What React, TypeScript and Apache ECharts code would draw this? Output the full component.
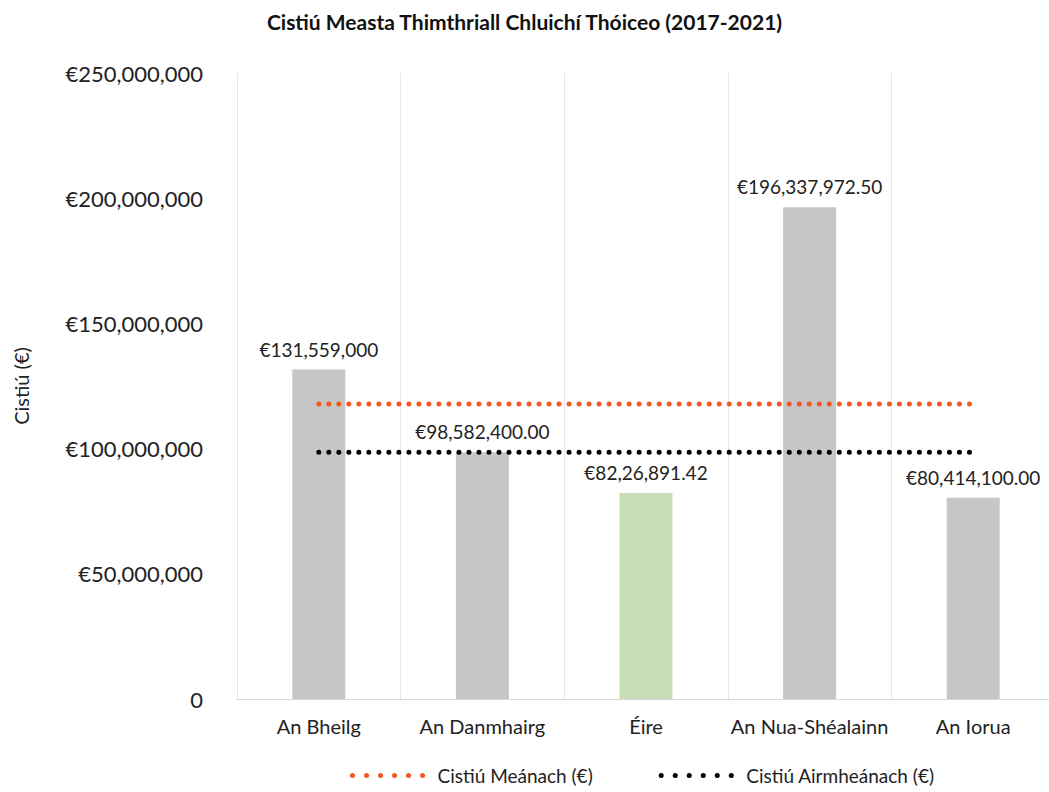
import React, { useEffect, useRef } from "react";
import * as echarts from "echarts";

const categories = ["An Bheilg", "An Danmhairg", "Éire", "An Nua-Shéalainn", "An Iorua"];
const fundingValues = [131559000, 98582400, 82268914, 196337972.5, 80414100];
const fundingLabels = ["€131,559,000", "€98,582,400.00", "€82,26,891.42", "€196,337,972.50", "€80,414,100.00"];
const meanValues = [117832477, 117832477, 117832477, 117832477, 117832477];
const medianValues = [98582400, 98582400, 98582400, 98582400, 98582400];
const yTicks = [0, 50000000, 100000000, 150000000, 200000000, 250000000];
const highlightIndex = 2;

const FONT = "Lato, 'Noto Sans', sans-serif";

function fmtEuro(v: number): string {
  if (v === 0) return "0";
  return "€" + v.toLocaleString("en-US");
}

export default function App() {
  const ref = useRef<HTMLDivElement>(null);
  useEffect(() => {
    if (!ref.current) return;
    const chart = echarts.init(ref.current, undefined, { renderer: "svg" });
    chart.setOption({
      animation: false,
      backgroundColor: "#ffffff",
      title: {
        text: "Cistiú Measta Thimthriall Chluichí Thóiceo (2017-2021)",
        left: "center",
        top: 6,
        textStyle: { fontFamily: FONT, fontSize: 21, fontWeight: "bold", color: "#111" },
      },
      grid: { left: 237, right: -6, top: 73, bottom: 93, containLabel: false, outerBoundsMode: "none" },
      legend: {
        bottom: 2,
        left: 345,
        itemGap: 66,
        itemWidth: 74,
        itemHeight: 14,
        itemStyle: { opacity: 0 },
        lineStyle: { width: 5, type: [0.01, 14], cap: "round" },
        textStyle: { fontFamily: FONT, fontSize: 19, color: "#222", padding: [0, 0, 0, 6] },
        data: ["Cistiú Meánach (€)", "Cistiú Airmheánach (€)"],
      },
      xAxis: {
        type: "category",
        data: categories,
        axisLine: { lineStyle: { color: "#d9d9d9", width: 1 } },
        axisTick: { show: false },
        splitLine: { show: true, interval: 0, lineStyle: { color: "#e6e6e6", width: 1 } },
        axisLabel: { interval: 0, fontFamily: FONT, fontSize: 20, color: "#222", margin: 17 },
      },
      yAxis: {
        type: "value",
        min: 0,
        max: 250000000,
        interval: 50000000,
        name: "Cistiú (€)",
        nameLocation: "middle",
        nameGap: 206,
        nameTextStyle: { fontFamily: FONT, fontSize: 20, color: "#222" },
        axisLine: { show: false },
        axisTick: { show: false },
        splitLine: { show: false },
        axisLabel: {
          fontFamily: FONT,
          fontSize: 22,
          color: "#222",
          margin: 34,
          formatter: (v: number) => (yTicks.includes(v) ? fmtEuro(v) : ""),
        },
      },
      series: [
        {
          type: "bar",
          name: "Cistiú",
          barWidth: 53,
          data: fundingValues.map((v, i) => ({
            value: v,
            itemStyle: { color: i === highlightIndex ? "#c6dfb4" : "#c6c6c6" },
          })),
          label: {
            show: true,
            position: "top",
            distance: 11,
            fontFamily: FONT,
            fontSize: 19,
            color: "#222",
            formatter: (p: any) => fundingLabels[p.dataIndex],
          },
          z: 1,
        },
        {
          type: "line",
          name: "Cistiú Meánach (€)",
          data: meanValues,
          symbol: "none",
          color: "#f05a22",
          lineStyle: { color: "#f05a22", width: 5, type: [0.01, 10], cap: "round" },
          z: 3,
        },
        {
          type: "line",
          name: "Cistiú Airmheánach (€)",
          data: medianValues,
          symbol: "none",
          color: "#000000",
          lineStyle: { color: "#000000", width: 5, type: [0.01, 10], cap: "round" },
          z: 3,
        },
      ],
    });
    return () => chart.dispose();
  }, []);
  return (
    <div
      ref={ref}
      style={{ position: "fixed", left: 0, top: 0, width: 1049, height: 792 }}
    />
  );
}
